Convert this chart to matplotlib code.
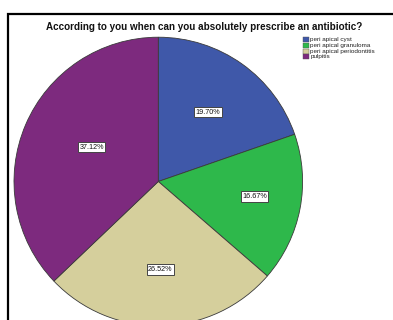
import numpy as np
import matplotlib
matplotlib.use("Agg")
import matplotlib.pyplot as plt
from matplotlib.patches import Rectangle

# Survey answers (number of respondents out of 132)
categories = ["peri apical cyst", "peri apical granuloma",
              "peri apical periodontitis", "pulpitis"]
counts = [26, 22, 35, 49]
pct_labels = ["19.70%", "16.67%", "26.52%", "37.12%"]
colors = ["#3F58A9", "#2EB84B", "#D5CF9C", "#7D2A7E"]
title = "According to you when can you absolutely prescribe an antibiotic?"

W, H = 393, 320
fig = plt.figure(figsize=(W / 100, H / 100), dpi=100)
ax = fig.add_axes([0, 0, 1, 1])
plt.rcParams["font.family"] = ["Liberation Sans", "DejaVu Sans"]

# outer chart frame
ax.add_patch(Rectangle((7.5, -20), W + 20, H - 13.5 + 20, fill=False,
                       edgecolor="black", linewidth=1.6, zorder=0))

cx, cy, r = 158.3, H - 181.5, 144.3
wedges, _ = ax.pie(counts, colors=colors, startangle=90, counterclock=False,
                   center=(cx, cy), radius=r, frame=True,
                   wedgeprops=dict(edgecolor="#3a3a3a", linewidth=0.6))
ax.set_xlim(0, W)
ax.set_ylim(0, H)
ax.set_aspect("equal")
ax.axis("off")

# percentage labels in boxed tags
label_frac = [0.59, 0.675, 0.61, 0.52]
label_shift = [0, 2, 0, -4]
for w, lab, f, s in zip(wedges, pct_labels, label_frac, label_shift):
    ang = np.deg2rad((w.theta1 + w.theta2) / 2 + s)
    x = cx + f * r * np.cos(ang)
    y = cy + f * r * np.sin(ang)
    ax.text(x, y, lab, ha="center", va="center", fontsize=5.2, color="#111",
            bbox=dict(boxstyle="square,pad=0.22", facecolor="white",
                      edgecolor="#444", linewidth=0.7), zorder=5)

ax.text(204, H - 27.5, title, ha="center", va="center", fontsize=7.1,
        fontweight="bold", color="#111")

# legend
for i, (name, c) in enumerate(zip(categories, colors)):
    yy = H - (39.7 + i * 5.7)
    ax.add_patch(Rectangle((303, yy - 2.5), 6, 5, facecolor=c,
                           edgecolor="#555", linewidth=0.3, zorder=5))
    ax.text(310.5, yy, name, ha="left", va="center", fontsize=4.6,
            color="#222", zorder=5)

fig.savefig("out.png", dpi=100, facecolor="white")
